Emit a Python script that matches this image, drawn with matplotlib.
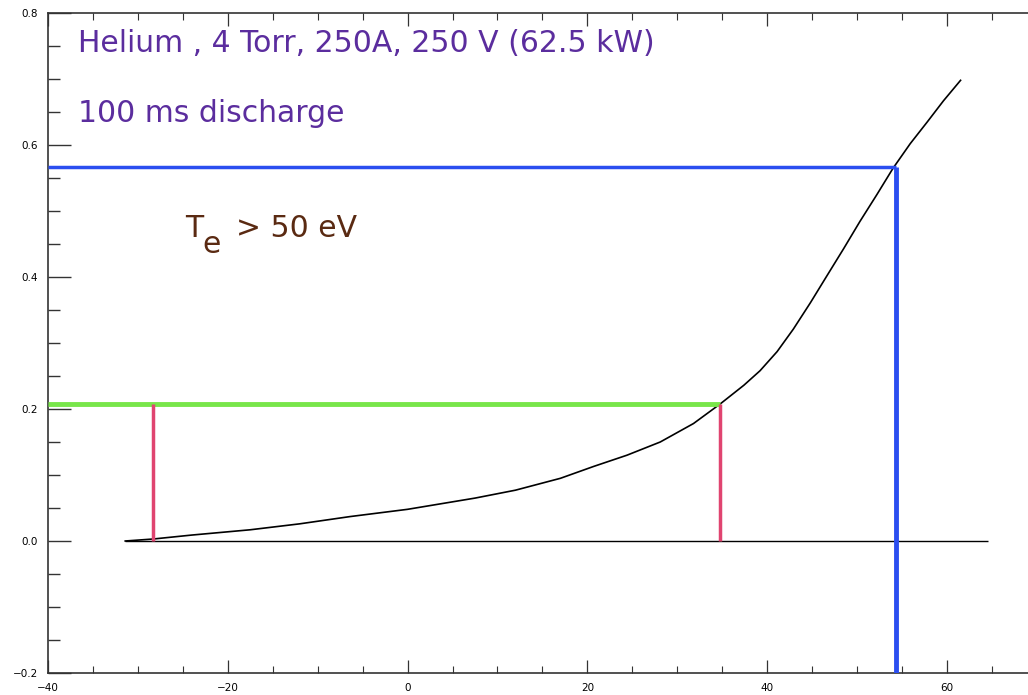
import matplotlib
matplotlib.use("Agg")
import matplotlib.pyplot as plt
from matplotlib.ticker import MultipleLocator

# measured curve (x, signal)
x_data = [-31.4, -28.3, -24.0, -17.5, -12.0, -6.4, 0.0, 7.5, 12.0, 17.0,
          20.7, 24.4, 28.1, 31.8, 34.8, 37.4, 39.2, 41.1, 42.9, 44.8,
          46.6, 48.5, 50.3, 52.2, 54.0, 55.9, 57.8, 59.6, 61.5]
y_data = [0.0, 0.003, 0.009, 0.017, 0.026, 0.037, 0.048, 0.065, 0.077, 0.095,
          0.113, 0.130, 0.150, 0.178, 0.208, 0.236, 0.258, 0.287, 0.321, 0.361,
          0.401, 0.443, 0.484, 0.525, 0.565, 0.602, 0.635, 0.667, 0.698]

# zero line extent
base_x = [-31.4, 64.6]

# marker levels
green_y = 0.208
green_x = 34.8
red_x = [-28.3, 34.8]
blue_y = 0.567
blue_x = 54.3

title1 = "Helium , 4 Torr, 250A, 250 V (62.5 kW)"
title2 = "100 ms discharge"

W, H = 1028, 695
fig = plt.figure(figsize=(W / 100, H / 100), dpi=100)
ax = fig.add_axes([47.9 / W, 1 - 673 / H, 1 - 47.9 / W, (673 - 13) / H])

ax.set_xlim(-40, 69)
ax.set_ylim(-0.2, 0.8)

ax.plot(x_data, y_data, color="black", lw=1.2, zorder=3)
ax.hlines(0, base_x[0], base_x[1], color="black", lw=1.0, zorder=2)

ax.hlines(green_y, -40, green_x, color="#78e64a", lw=3.5, zorder=4)
ax.vlines(red_x, 0, green_y, color="#e04470", lw=2.5, zorder=4)
ax.hlines(blue_y, -40, blue_x, color="#2b4ef0", lw=2.5, zorder=4)
ax.vlines(blue_x, -0.2, blue_y, color="#2b4ef0", lw=3.5, zorder=4)

ax.xaxis.set_major_locator(MultipleLocator(20))
ax.xaxis.set_minor_locator(MultipleLocator(5))
ax.yaxis.set_major_locator(MultipleLocator(0.2))
ax.yaxis.set_minor_locator(MultipleLocator(0.05))
ax.xaxis.set_major_formatter(plt.FuncFormatter(lambda v, p: f"{v:.0f}".replace("-", "\u2212")))
ax.yaxis.set_major_formatter(plt.FuncFormatter(lambda v, p: f"{v:.1f}".replace("-", "\u2212")))

ax.tick_params(axis="x", which="major", direction="in", length=9.5, width=0.9,
               top=True, labelsize=7.5, pad=7, color="#333333")
ax.tick_params(axis="x", which="minor", direction="in", length=5, width=0.8,
               top=True, color="#333333")
ax.tick_params(axis="y", which="major", direction="in", length=16.5, width=1.0,
               right=False, labelsize=7.5, pad=7, color="#333333")
ax.tick_params(axis="y", which="minor", direction="in", length=8.5, width=1.0,
               right=False, color="#333333")

for s in ["left", "bottom", "top"]:
    ax.spines[s].set_linewidth(1.2)
    ax.spines[s].set_color("#333333")
ax.spines["right"].set_visible(False)

purple = "#5b2d9e"
brown = "#5a2a12"
fig.text(78 / W, 1 - 52 / H, title1, color=purple, fontsize=21.5, va="baseline", ha="left")
fig.text(78 / W, 1 - 122 / H, title2, color=purple, fontsize=21.5, va="baseline", ha="left")

# T with a dropped "e" subscript
fig.text(185 / W, 1 - 237 / H, "T", color=brown, fontsize=21.5, va="baseline", ha="left")
fig.text(202 / W, 1 - 253 / H, "e", color=brown, fontsize=21.5, va="baseline", ha="left")
fig.text(236 / W, 1 - 237 / H, "> 50 eV", color=brown, fontsize=21.5, va="baseline", ha="left")

fig.savefig("out.png", dpi=100)
